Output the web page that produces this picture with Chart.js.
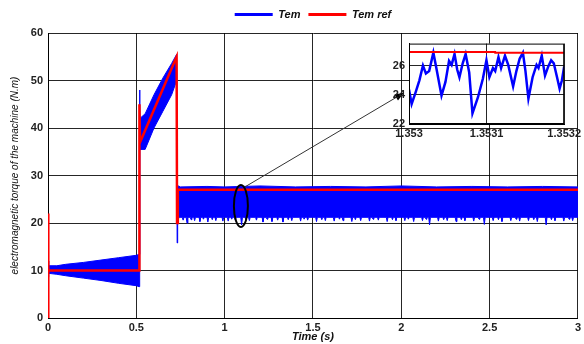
<!DOCTYPE html>
<html>
<head>
<meta charset="utf-8">
<title>Tem</title>
<script src="https://cdn.jsdelivr.net/npm/chart.js@4"></script>
<style>
    html, body { margin: 0; padding: 0; background: #fff; }
    #wrap { position: relative; width: 584px; height: 344px; }
    .box { position: absolute; }
</style>
</head>
<body>
<div id="wrap">
    <div class="box" style="left:0;top:0;width:584px;height:344px"><canvas id="mainChart"></canvas></div>
    <div class="box" style="left:385px;top:33px;width:199px;height:110px"><canvas id="zoomChart"></canvas></div>
</div>
<script>
// 坐标轴刻度
const xTicks = [0, 0.5, 1, 1.5, 2, 2.5, 3];
const yTicks = [0, 10, 20, 30, 40, 50, 60];

// 参考转矩 Tem ref
const refTime = [0, 0.0005, 0.003, 0.517, 0.5175, 0.521, 0.728, 0.7295, 0.7305, 0.735, 3];
const refTem  = [0, 22, 10, 10, 45, 37, 55, 55, 20, 27, 27];

// 实际转矩 Tem 的上包络
const upperTime = [0, 0.004, 0.05, 0.1, 0.2, 0.3, 0.4, 0.5, 0.516, 0.5185, 0.5205,
    0.55, 0.6, 0.65, 0.7, 0.728, 0.7295, 0.7315, 0.75, 0.9, 1.0, 1.2, 1.4, 1.6,
    1.8, 2.0, 2.2, 2.4, 2.6, 2.8, 3];
const upperTem  = [12, 11.0, 11.0, 11.3, 11.7, 12.2, 12.7, 13.2, 13.4, 48, 42,
    43, 47, 50.5, 53.6, 55.5, 55.5, 27.9, 27.6, 27.7, 27.6, 27.8, 27.6, 27.7,
    27.6, 27.8, 27.6, 27.7, 27.6, 27.7, 27.6];

// 实际转矩 Tem 的下包络（稳态段底部的毛刺逐个列出）
const lowerTime = [0, 0.004, 0.05, 0.1, 0.2, 0.3, 0.4, 0.5, 0.516, 0.519,
    0.55, 0.6, 0.65, 0.7, 0.7285, 0.731, 0.734, 0.742,
    0.760, 0.765, 0.770,  0.782, 0.787, 0.792,  0.805, 0.810, 0.815,  0.825, 0.830, 0.835,
    0.855, 0.860, 0.865,  0.875, 0.880, 0.885,  0.900, 0.905, 0.910,  0.925, 0.930, 0.935,
    0.945, 0.950, 0.955,  0.985, 0.990, 0.995,  1.015, 1.020, 1.025,  1.035, 1.040, 1.045,
    1.055, 1.060, 1.065,  1.091, 1.096, 1.101,  1.115, 1.120, 1.125,  1.135, 1.140, 1.145,
    1.175, 1.180, 1.185,  1.212, 1.217, 1.222,  1.235, 1.240, 1.245,  1.263, 1.268, 1.273,
    1.295, 1.300, 1.305,  1.325, 1.330, 1.335,  1.355, 1.360, 1.365,  1.375, 1.380, 1.385,
    1.425, 1.430, 1.435,  1.445, 1.450, 1.455,  1.465, 1.470, 1.475,  1.515, 1.520, 1.525,
    1.545, 1.550, 1.555,  1.565, 1.570, 1.575,  1.615, 1.620, 1.625,  1.645, 1.650, 1.655,
    1.665, 1.670, 1.675,  1.715, 1.720, 1.725,  1.735, 1.740, 1.745,  1.765, 1.770, 1.775,
    1.815, 1.820, 1.825,  1.835, 1.840, 1.845,  1.865, 1.870, 1.875,  1.915, 1.920, 1.925,
    1.945, 1.950, 1.955,  1.965, 1.970, 1.975,  2.015, 2.020, 2.025,  2.035, 2.040, 2.045,
    2.065, 2.070, 2.075,  2.115, 2.120, 2.125,  2.135, 2.140, 2.145,  2.155, 2.160, 2.165,
    2.205, 2.210, 2.215,  2.235, 2.240, 2.245,  2.255, 2.260, 2.265,  2.305, 2.310, 2.315,
    2.335, 2.340, 2.345,  2.355, 2.360, 2.365,  2.405, 2.410, 2.415,  2.435, 2.440, 2.445,
    2.465, 2.470, 2.475,  2.515, 2.520, 2.525,  2.545, 2.550, 2.555,  2.565, 2.570, 2.575,
    2.615, 2.620, 2.625,  2.645, 2.650, 2.655,  2.665, 2.670, 2.675,  2.715, 2.720, 2.725,
    2.745, 2.750, 2.755,  2.765, 2.770, 2.775,  2.815, 2.820, 2.825,  2.845, 2.850, 2.855,
    2.865, 2.870, 2.875,  2.915, 2.920, 2.925,  2.945, 2.950, 2.955,  2.965, 2.970, 2.975,
    3];
const lowerTem  = [8.6, 9.4, 9.2, 8.9, 8.4, 7.9, 7.3, 6.8, 6.6, 35.5,
    35.5, 40, 43.5, 47, 50, 15.8, 20.4, 21.2,
    21.2, 20.6, 21.2,  21.2, 20.0, 21.2,  21.2, 20.7, 21.2,  21.2, 20.5, 21.2,
    21.2, 20.3, 21.2,  21.2, 20.8, 21.2,  21.2, 20.2, 21.2,  21.2, 20.7, 21.2,
    21.2, 20.5, 21.2,  21.2, 20.4, 21.2,  21.2, 20.4, 21.2,  21.2, 20.8, 21.2,
    21.2, 20.6, 21.2,  21.2, 19.6, 21.2,  21.2, 20.7, 21.2,  21.2, 20.5, 21.2,
    21.2, 20.6, 21.2,  21.2, 20.2, 21.2,  21.2, 20.8, 21.2,  21.2, 20.3, 21.2,
    21.2, 20.6, 21.2,  21.2, 20.2, 21.2,  21.2, 20.7, 21.2,  21.2, 20.5, 21.2,
    21.2, 20.4, 21.2,  21.2, 20.8, 21.2,  21.2, 20.6, 21.2,  21.2, 20.3, 21.2,
    21.2, 20.7, 21.2,  21.2, 20.5, 21.2,  21.2, 20.4, 21.2,  21.2, 20.8, 21.2,
    21.2, 20.5, 21.2,  21.2, 20.3, 21.2,  21.2, 20.7, 21.2,  21.2, 20.5, 21.2,
    21.2, 20.4, 21.2,  21.2, 20.8, 21.2,  21.2, 20.6, 21.2,  21.2, 20.3, 21.2,
    21.2, 20.7, 21.2,  21.2, 20.5, 21.2,  21.2, 20.5, 21.2,  21.2, 20.8, 21.2,
    21.2, 20.3, 21.2,  21.2, 20.5, 21.2,  21.2, 20.8, 21.2,  21.2, 19.6, 21.2,
    21.2, 20.4, 21.2,  21.2, 20.7, 21.2,  21.2, 20.5, 21.2,  21.2, 20.3, 21.2,
    21.2, 20.7, 21.2,  21.2, 20.5, 21.2,  21.2, 20.4, 21.2,  21.2, 20.8, 21.2,
    21.2, 19.7, 21.2,  21.2, 20.5, 21.2,  21.2, 20.7, 21.2,  21.2, 20.3, 21.2,
    21.2, 20.5, 21.2,  21.2, 20.8, 21.2,  21.2, 20.4, 21.2,  21.2, 20.5, 21.2,
    21.2, 20.7, 21.2,  21.2, 20.3, 21.2,  21.2, 19.6, 21.2,  21.2, 20.7, 21.2,
    21.2, 20.5, 21.2,  21.2, 20.4, 21.2,  21.2, 20.8, 21.2,  21.2, 20.5, 21.2,
    21.2];

// 局部放大 (1.353 s ~ 1.3532 s)
const insetXTicks  = [1.353, 1.3531, 1.3532];
const insetXLabels = ['1.353', '1.3531', '1.3532'];
const insetYTicks  = [22, 24, 26];

const insetTime = [1.3530000, 1.3530034, 1.3530084, 1.3530134, 1.3530180, 1.3530218,
    1.3530260, 1.3530314, 1.3530356, 1.3530419, 1.3530470, 1.3530516, 1.3530549,
    1.3530587, 1.3530621, 1.3530650, 1.3530692, 1.3530730, 1.3530776, 1.3530818,
    1.3530889, 1.3530952, 1.3530998, 1.3531036, 1.3531082, 1.3531111, 1.3531153,
    1.3531187, 1.3531237, 1.3531279, 1.3531342, 1.3531384, 1.3531426, 1.3531468,
    1.3531501, 1.3531539, 1.3531593, 1.3531644, 1.3531669, 1.3531711, 1.3531753,
    1.3531795, 1.3531832, 1.3531866, 1.3531908, 1.3531941, 1.3531971, 1.3532000];
const insetTem = [24.36, 23.37, 24.15, 24.99, 26.0, 25.45,
    25.62, 26.88, 25.73, 23.94, 24.88, 26.32, 26.04,
    26.78, 25.73, 25.2, 26.15, 26.78, 25.52, 22.72,
    23.83, 25.09, 26.36, 25.2, 25.83, 25.62, 26.57,
    25.83, 26.67, 26.04, 24.57, 25.62, 26.46, 26.88,
    25.62, 23.73, 25.2, 26.04, 25.83, 26.67, 25.31,
    25.94, 26.36, 26.15, 25.2, 24.42, 24.99, 25.94];
const insetRefTime = [1.353, 1.3531111, 1.3531112, 1.3532];
const insetRef     = [26.92, 26.92, 26.88, 26.88];

const BLUE = '#0000ff';
const RED = '#ff0000';
const FONT = "'Liberation Sans', Arial, sans-serif";

Chart.defaults.font.family = FONT;

function toPoints(xs, ys) {
    return xs.map((x, i) => ({ x: x, y: ys[i] }));
}

function fixedTicks(values) {
    return function (axis) {
        axis.ticks = values.map(v => ({ value: v }));
    };
}

const tickFont = { family: FONT, size: 11, weight: 'bold' };
const gridLine = { color: 'rgba(0,0,0,0.85)', lineWidth: 1, drawTicks: false };

// 椭圆标记 + 指向放大图的箭头
const zoomMarker = {
    id: 'zoomMarker',
    afterLayout(chart) {
        // 图例稍微上移
        chart.legend.top -= 3;
        chart.legend.bottom -= 3;
    },
    afterDatasetsDraw(chart) {
        const ctx = chart.ctx;
        const xs = chart.scales.x;
        const ys = chart.scales.y;
        const cx = xs.getPixelForValue(1.092);
        const cy = ys.getPixelForValue(23.6);
        ctx.save();
        ctx.strokeStyle = '#000';
        ctx.lineWidth = 2;
        ctx.beginPath();
        ctx.ellipse(cx, cy, 7, 21, 0, 0, Math.PI * 2);
        ctx.stroke();

        const x1 = xs.getPixelForValue(1.115), y1 = ys.getPixelForValue(27.6);
        const x2 = xs.getPixelForValue(2.015), y2 = ys.getPixelForValue(47.4);
        const a = Math.atan2(y2 - y1, x2 - x1);
        ctx.strokeStyle = '#333';
        ctx.lineWidth = 1;
        ctx.beginPath();
        ctx.moveTo(x1, y1);
        ctx.lineTo(x2, y2);
        ctx.stroke();
        ctx.fillStyle = '#000';
        ctx.beginPath();
        ctx.moveTo(x2, y2);
        ctx.lineTo(x2 - 9 * Math.cos(a) + 3.5 * Math.sin(a), y2 - 9 * Math.sin(a) - 3.5 * Math.cos(a));
        ctx.lineTo(x2 - 9 * Math.cos(a) - 3.5 * Math.sin(a), y2 - 9 * Math.sin(a) + 3.5 * Math.cos(a));
        ctx.closePath();
        ctx.fill();
        ctx.restore();
    }
};

new Chart(document.getElementById('mainChart'), {
    type: 'line',
    data: {
        datasets: [{
            label: 'Tem',
            data: toPoints(upperTime, upperTem),
            borderColor: BLUE,
            backgroundColor: BLUE,
            borderWidth: 1,
            pointRadius: 0,
            fill: false,
            order: 1
        }, {
            label: '',
            data: toPoints(lowerTime, lowerTem),
            borderColor: BLUE,
            backgroundColor: BLUE,
            borderWidth: 1,
            pointRadius: 0,
            fill: '-1',
            order: 2
        }, {
            label: 'Tem ref',
            data: toPoints(refTime, refTem),
            borderColor: RED,
            backgroundColor: RED,
            borderWidth: 2.5,
            pointRadius: 0,
            fill: false,
            order: 0
        }]
    },
    options: {
        responsive: true,
        maintainAspectRatio: false,
        animation: false,
        layout: { autoPadding: false, padding: { top: 4, right: 6, left: 0, bottom: 0 } },
        scales: {
            x: {
                type: 'linear',
                min: 0,
                max: 3,
                afterBuildTicks: fixedTicks(xTicks),
                afterFit: axis => { axis.height = 26; },
                grid: gridLine,
                border: { display: true, color: '#000', width: 1 },
                ticks: {
                    color: '#222', font: tickFont, padding: 3, maxRotation: 0, autoSkip: false,
                    callback: value => String(value)
                },
                title: {
                    display: true,
                    text: 'Time (s)',
                    color: '#111',
                    font: { family: FONT, size: 11, weight: 'bold', style: 'italic' },
                    padding: { top: 0, bottom: 0 }
                }
            },
            y: {
                type: 'linear',
                min: 0,
                max: 60,
                afterBuildTicks: fixedTicks(yTicks),
                afterFit: axis => { axis.width = 48; },
                grid: gridLine,
                border: { display: true, color: '#000', width: 1 },
                ticks: { color: '#222', font: tickFont, padding: 5, autoSkip: false },
                title: {
                    display: true,
                    text: 'electromagnetic torque of the machine (N.m)',
                    color: '#111',
                    font: { family: FONT, size: 10, style: 'italic' },
                    padding: { top: 9, bottom: 0 }
                }
            }
        },
        plugins: {
            legend: {
                position: 'top',
                fullSize: false,
                labels: {
                    boxWidth: 38,
                    boxHeight: 3,
                    padding: 8,
                    color: '#111',
                    font: { family: FONT, size: 11, weight: 'bold', style: 'italic' },
                    generateLabels: chart => Chart.defaults.plugins.legend.labels.generateLabels(chart)
                        .filter(item => item.text)
                        .map(item => Object.assign(item, { lineWidth: 0 })),
                    sort: (a, b) => a.datasetIndex - b.datasetIndex
                }
            },
            tooltip: { enabled: false }
        }
    },
    plugins: [zoomMarker]
});

// 放大图：绘图区白底 + 外框
const insetFrame = {
    id: 'insetFrame',
    beforeDraw(chart) {
        const a = chart.chartArea;
        chart.ctx.save();
        chart.ctx.fillStyle = '#fff';
        chart.ctx.fillRect(a.left, a.top, a.right - a.left, a.bottom - a.top);
        chart.ctx.restore();
    },
    afterDraw(chart) {
        const a = chart.chartArea;
        chart.ctx.save();
        chart.ctx.strokeStyle = '#000';
        chart.ctx.lineWidth = 1;
        chart.ctx.strokeRect(a.left + 0.5, a.top + 0.5, a.right - a.left - 1, a.bottom - a.top - 1);
        chart.ctx.restore();
    }
};

new Chart(document.getElementById('zoomChart'), {
    type: 'line',
    data: {
        datasets: [{
            label: 'Tem',
            data: toPoints(insetTime, insetTem),
            borderColor: BLUE,
            borderWidth: 2.5,
            pointRadius: 0,
            fill: false,
            order: 1
        }, {
            label: 'Tem ref',
            data: toPoints(insetRefTime, insetRef),
            borderColor: RED,
            borderWidth: 2,
            pointRadius: 0,
            fill: false,
            order: 0
        }]
    },
    options: {
        responsive: true,
        maintainAspectRatio: false,
        animation: false,
        layout: { autoPadding: false, padding: { top: 7, right: 16, left: 0, bottom: 0 } },
        scales: {
            x: {
                type: 'linear',
                min: 1.353,
                max: 1.3532,
                afterBuildTicks: fixedTicks(insetXTicks),
                afterFit: axis => { axis.height = 19; },
                grid: gridLine,
                border: { display: true, color: '#000', width: 1 },
                ticks: {
                    color: '#222', font: tickFont, padding: 3, maxRotation: 0, autoSkip: false,
                    callback: (value, index) => insetXLabels[index]
                }
            },
            y: {
                type: 'linear',
                min: 22,
                max: 27.5,
                afterBuildTicks: fixedTicks(insetYTicks),
                afterFit: axis => { axis.width = 24; },
                grid: gridLine,
                border: { display: true, color: '#000', width: 1 },
                ticks: { color: '#222', font: tickFont, padding: 4, autoSkip: false }
            }
        },
        plugins: {
            legend: { display: false },
            tooltip: { enabled: false }
        }
    },
    plugins: [insetFrame]
});
</script>
</body>
</html>
